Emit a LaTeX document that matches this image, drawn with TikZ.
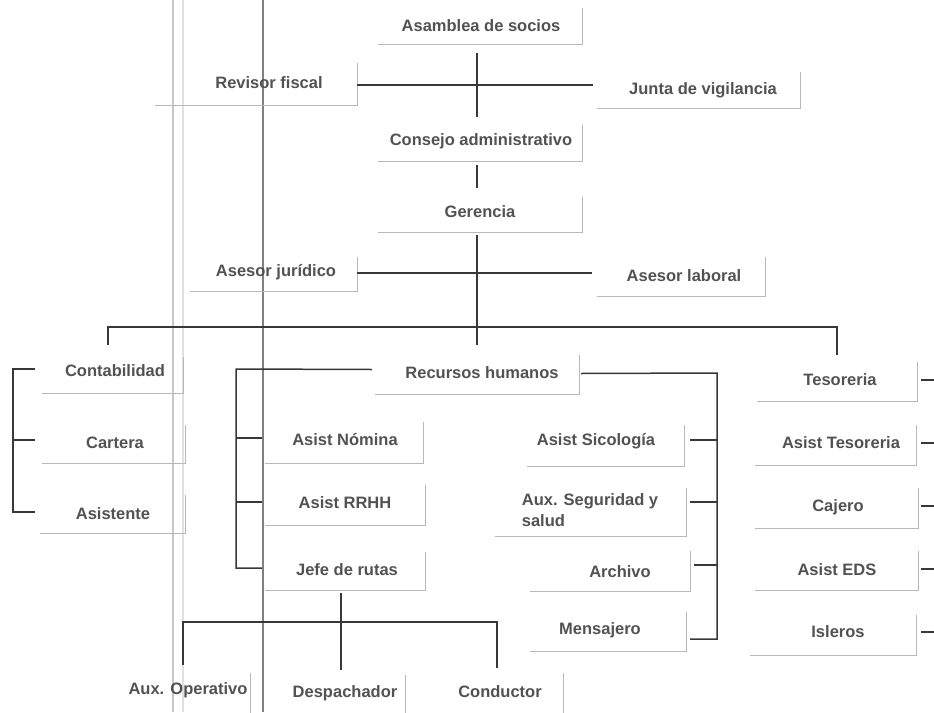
\documentclass[tikz,border=0pt]{standalone}
\usepackage{fontspec}
\setmainfont{Liberation Sans}
\usetikzlibrary{fit}
\tikzset{
  bx/.style={inner sep=0pt, draw=none},
  boxline/.style={draw=black!28, line width=0.8pt},
  txt/.style={inner sep=0pt, text=black!68, font=\fontsize{16.5}{21}\selectfont\bfseries},
  conn/.style={draw=black!78, line width=1.5pt},
  scanline/.style={line width=1.4pt}
}
\newcommand\orgbox[8]{%
  \node[bx, fit={(#2,#3) (#4,#5)}] (#1) {};
  \draw[boxline] (#1.south west) -- (#1.south east) -- (#1.north east);
  \node[txt] (#1t) at (#6,#7) {#8};}
\begin{document}
\begin{tikzpicture}[x=1pt,y=-1pt]
\useasboundingbox[fill=white] (0,0) rectangle (934,712);
% scan artifacts
\draw[scanline, black!22] (173,0) -- (173,712);
\draw[scanline, black!12] (183,0) -- (183,712);
\draw[scanline, black!50, line width=1.8pt] (263,0) -- (263,712);
% boxes
\orgbox{asam}{378}{8}{582}{44}{481}{26}{Asamblea de socios}
\orgbox{rev}{155}{63}{357}{105}{269}{83}{Revisor fiscal}
\orgbox{junta}{597}{72}{800}{108}{703}{90}{Junta de vigilancia}
\orgbox{cons}{378}{125}{582}{161}{481}{141}{Consejo administrativo}
\orgbox{ger}{378}{197}{582}{232}{480}{212}{Gerencia}
\orgbox{asj}{190}{257}{357}{291}{276}{272}{Asesor jurídico}
\orgbox{asl}{597}{257}{765}{296}{684}{276}{Asesor laboral}
\orgbox{cont}{42}{357}{183}{393}{115}{371}{Contabilidad}
\orgbox{cart}{42}{425}{185}{463}{115}{443}{Cartera}
\orgbox{asis}{40}{495}{185}{533}{113}{514}{Asistente}
\orgbox{rrhh}{375}{355}{579}{394}{482}{373}{Recursos humanos}
\orgbox{nom}{265}{422}{423}{463}{345}{440}{Asist Nómina}
\orgbox{arrhh}{265}{485}{425}{525}{345}{503}{Asist RRHH}
\orgbox{jefe}{265}{552}{425}{590}{347}{570}{Jefe de rutas}
\orgbox{sico}{527}{425}{684}{466}{596}{441}{Asist Sicología}
\node[bx, fit={(495,488) (686,536)}] (aux) {};
\draw[boxline] (aux.south west) -- (aux.south east) -- (aux.north east);
\node[txt, align=left] (auxt) at (590,510) {Aux. Seguridad y\\salud};
\orgbox{arch}{530}{551}{690}{591}{620}{572}{Archivo}
\orgbox{mens}{530}{612}{686}{651}{600}{630}{Mensajero}
\orgbox{teso}{757}{362}{917}{401}{840}{380}{Tesoreria}
\orgbox{ateso}{755}{425}{916}{465}{841}{443}{Asist Tesoreria}
\orgbox{caj}{755}{488}{918}{528}{838}{507}{Cajero}
\orgbox{eds}{755}{551}{918}{590}{837}{570}{Asist EDS}
\orgbox{isl}{750}{615}{916}{655}{838}{632}{Isleros}
\orgbox{auxop}{120}{673}{250}{716}{188}{690}{Aux. Operativo}
\orgbox{desp}{265}{675}{405}{716}{345}{693}{Despachador}
\orgbox{cond}{430}{673}{563}{716}{500}{692}{Conductor}
% junction coordinates
\coordinate (a1) at (477,53);
\coordinate (a2) at (477,117);
\coordinate (c1) at (477,165);
\coordinate (c2) at (477,188);
\coordinate (g1) at (477,235);
\coordinate (g2) at (477,345);
\coordinate (bl) at (108,345);
\coordinate (br) at (837,355);
% connectors
\draw[conn] (a1) -- (a2);
\draw[conn] (rev.east) ++(0,1) -- (593,85);
\draw[conn] (c1) -- (c2);
\draw[conn] (g1) -- (g2);
\draw[conn] (asj.east) ++(0,-1) -- (592,273);
\draw[conn] (bl) -- (108,327) -- (837,327) -- (br);
% Contabilidad bracket
\draw[conn] (35,369) -- (13,369) -- (13,512) -- (35,512);
\draw[conn] (13,440) -- (35,440);
% RRHH left bracket
\draw[conn] (rrhh.west) ++(-3,-5) -- (236,369) -- (236,568) -- (262,568);
\draw[conn] (236,438) -- (262,438);
\draw[conn] (236,502) -- (262,502);
% RRHH right bracket
\draw[conn] (rrhh.east) ++(2,-1) -- (717,373) -- (717,639) -- (690,639);
\draw[conn] (690,440) -- (717,440);
\draw[conn] (690,502) -- (717,502);
\draw[conn] (694,565) -- (717,565);
% Jefe de rutas
\draw[conn] (341,593) -- (341,670);
\draw[conn] (183,665) -- (183,622) -- (497,622) -- (497,668);
% Tesoreria ticks
\foreach \yy in {380,443,506,569,632} \draw[conn] (921,\yy) -- (934,\yy);
\end{tikzpicture}
\end{document}
